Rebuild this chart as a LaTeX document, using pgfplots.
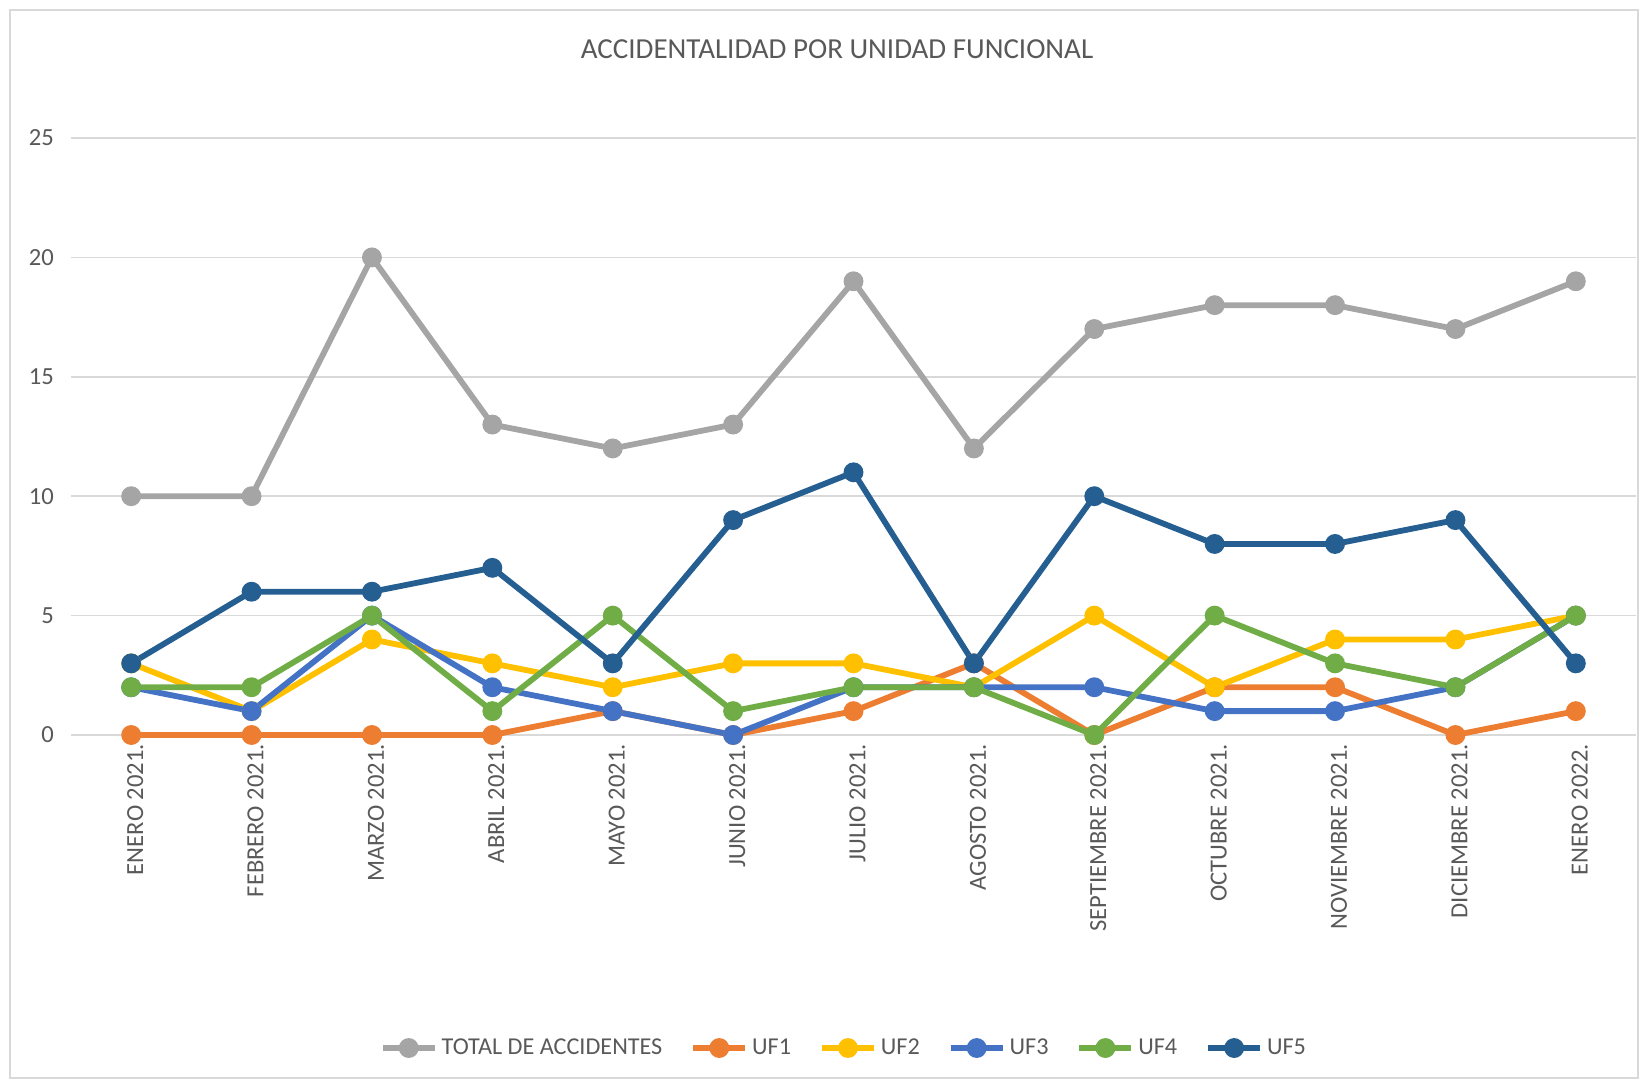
\documentclass[border=0pt]{standalone}
\usepackage{pgfplots}
\pgfplotsset{compat=1.18}
\usepackage{fontspec}
\setmainfont{Carlito}
\definecolor{cTot}{HTML}{A5A5A5}
\definecolor{cUFa}{HTML}{ED7D31}
\definecolor{cUFb}{HTML}{FFC000}
\definecolor{cUFc}{HTML}{4472C4}
\definecolor{cUFd}{HTML}{70AD47}
\definecolor{cUFe}{HTML}{255E91}
\definecolor{txt}{HTML}{595959}
\definecolor{gridc}{HTML}{D9D9D9}
\begin{document}
\begin{tikzpicture}
\useasboundingbox (0,0) rectangle (821pt,541.5pt);
\draw[gridc, line width=0.6pt] (5pt,2.5pt) rectangle (819pt,536.5pt);
\node[text=txt, font=\fontsize{14.5pt}{16pt}\selectfont] at (418.5pt,517pt) {ACCIDENTALIDAD POR UNIDAD FUNCIONAL};
\begin{axis}[
  at={(35.5pt,174pt)}, anchor=south west,
  scale only axis, width=782.5pt, height=298.5pt,
  xmin=-0.5, xmax=12.5, ymin=0, ymax=25,
  ytick={0,5,10,15,20,25},
  xtick={0,...,12},
  xticklabels={ENERO 2021., FEBRERO 2021., MARZO 2021., ABRIL 2021., MAYO 2021., JUNIO 2021., JULIO 2021., AGOSTO 2021., SEPTIEMBRE 2021., OCTUBRE 2021., NOVIEMBRE 2021., DICIEMBRE 2021., ENERO 2022.},
  x tick label style={rotate=90, anchor=east, font=\fontsize{12.3pt}{14pt}\selectfont, text=txt},
  y tick label style={font=\fontsize{12.3pt}{14pt}\selectfont, text=txt},
  /pgf/number format/assume math mode=true,
  xtick style={draw=none}, ytick style={draw=none},
  axis line style={draw=none},
  xmajorgrids=false, ymajorgrids=true,
  major grid style={draw=gridc, line width=0.75pt},
  yticklabel style={xshift=-5pt},
  xticklabel style={yshift=-2pt, xshift=-1pt},
  clip=false,
  legend columns=6,
  legend style={at={(0.4945,-0.5243)}, anchor=center, draw=none, fill=none,
    font=\fontsize{12.1pt}{14pt}\selectfont, text=txt,
    /tikz/every even column/.append style={column sep=12pt}},
  legend image code/.code={\draw[mark repeat=2,mark phase=2,#1] plot coordinates {(0pt,0pt) (13pt,0pt) (26pt,0pt)};},
  every axis plot/.append style={line width=2.9pt, mark=*, mark size=3.5pt, mark options={solid}},
]
\addplot[cTot, mark options={fill=cTot}] coordinates {(0,10)(1,10)(2,20)(3,13)(4,12)(5,13)(6,19)(7,12)(8,17)(9,18)(10,18)(11,17)(12,19)};
\addlegendentry{TOTAL DE ACCIDENTES}
\addplot[cUFa, mark options={fill=cUFa}] coordinates {(0,0)(1,0)(2,0)(3,0)(4,1)(5,0)(6,1)(7,3)(8,0)(9,2)(10,2)(11,0)(12,1)};
\addlegendentry{UF1}
\addplot[cUFb, mark options={fill=cUFb}] coordinates {(0,3)(1,1)(2,4)(3,3)(4,2)(5,3)(6,3)(7,2)(8,5)(9,2)(10,4)(11,4)(12,5)};
\addlegendentry{UF2}
\addplot[cUFc, mark options={fill=cUFc}] coordinates {(0,2)(1,1)(2,5)(3,2)(4,1)(5,0)(6,2)(7,2)(8,2)(9,1)(10,1)(11,2)(12,5)};
\addlegendentry{UF3}
\addplot[cUFd, mark options={fill=cUFd}] coordinates {(0,2)(1,2)(2,5)(3,1)(4,5)(5,1)(6,2)(7,2)(8,0)(9,5)(10,3)(11,2)(12,5)};
\addlegendentry{UF4}
\addplot[cUFe, mark options={fill=cUFe}] coordinates {(0,3)(1,6)(2,6)(3,7)(4,3)(5,9)(6,11)(7,3)(8,10)(9,8)(10,8)(11,9)(12,3)};
\addlegendentry{UF5}
\end{axis}
\end{tikzpicture}
\end{document}
